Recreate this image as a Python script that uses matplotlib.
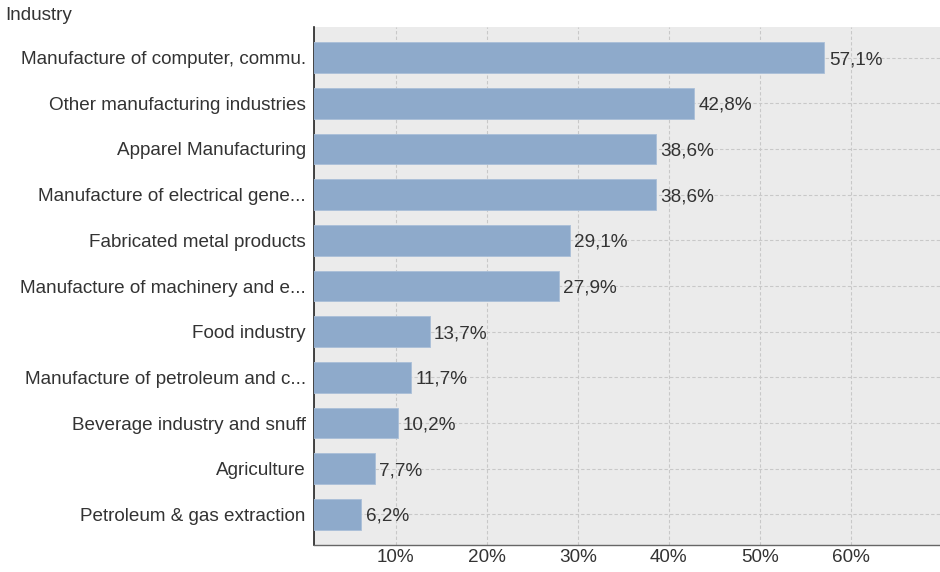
import matplotlib
matplotlib.use("Agg")
import matplotlib.pyplot as plt

categories = [
    "Manufacture of computer, commu.",
    "Other manufacturing industries",
    "Apparel Manufacturing",
    "Manufacture of electrical gene...",
    "Fabricated metal products",
    "Manufacture of machinery and e...",
    "Food industry",
    "Manufacture of petroleum and c...",
    "Beverage industry and snuff",
    "Agriculture",
    "Petroleum & gas extraction",
]
values = [57.1, 42.8, 38.6, 38.6, 29.1, 27.9, 13.7, 11.7, 10.2, 7.7, 6.2]
tick_values = [10, 20, 30, 40, 50, 60]
tick_labels = ["10%", "20%", "30%", "40%", "50%", "60%"]

plt.rcParams["font.family"] = ["Liberation Sans", "DejaVu Sans"]
FS = 13.6

fig = plt.figure(figsize=(9.4, 5.72), dpi=100)
ax = fig.add_axes([0.334, 0.047, 0.666, 0.906])
ax.set_facecolor("#ebebeb")

ypos = list(range(len(categories)))
ax.barh(ypos, values, height=0.67, color="#8eaacb", edgecolor="#a9bfd8",
        linewidth=0.6, zorder=3)

for y, v in zip(ypos, values):
    ax.text(v + 0.5, y, f"{v:.1f}%".replace(".", ","), va="center_baseline",
            ha="left", fontsize=FS, color="#333333", zorder=4)

ax.set_xlim(1, 69.8)
ax.set_ylim(len(categories) - 1 + 0.67, -0.67)
ax.set_yticks(ypos)
ax.set_yticklabels(categories, fontsize=FS, color="#333333")
ax.set_xticks(tick_values)
ax.set_xticklabels(tick_labels, fontsize=FS, color="#333333")
ax.tick_params(axis="both", length=0)
ax.tick_params(axis="y", pad=6)
ax.tick_params(axis="x", pad=3)

ax.grid(True, color="#c8c8c8", linestyle=(0, (3, 2)), linewidth=0.8, zorder=0)
ax.set_axisbelow(True)

for side in ("top", "right"):
    ax.spines[side].set_visible(False)
ax.spines["left"].set_color("#222222")
ax.spines["left"].set_linewidth(1.2)
ax.spines["bottom"].set_color("#666666")
ax.spines["bottom"].set_linewidth(1.0)

fig.text(5 / 940, 1 - 15 / 572, "Industry", fontsize=FS, color="#333333",
         ha="left", va="center")

fig.savefig("out.png", dpi=100, facecolor="white")
